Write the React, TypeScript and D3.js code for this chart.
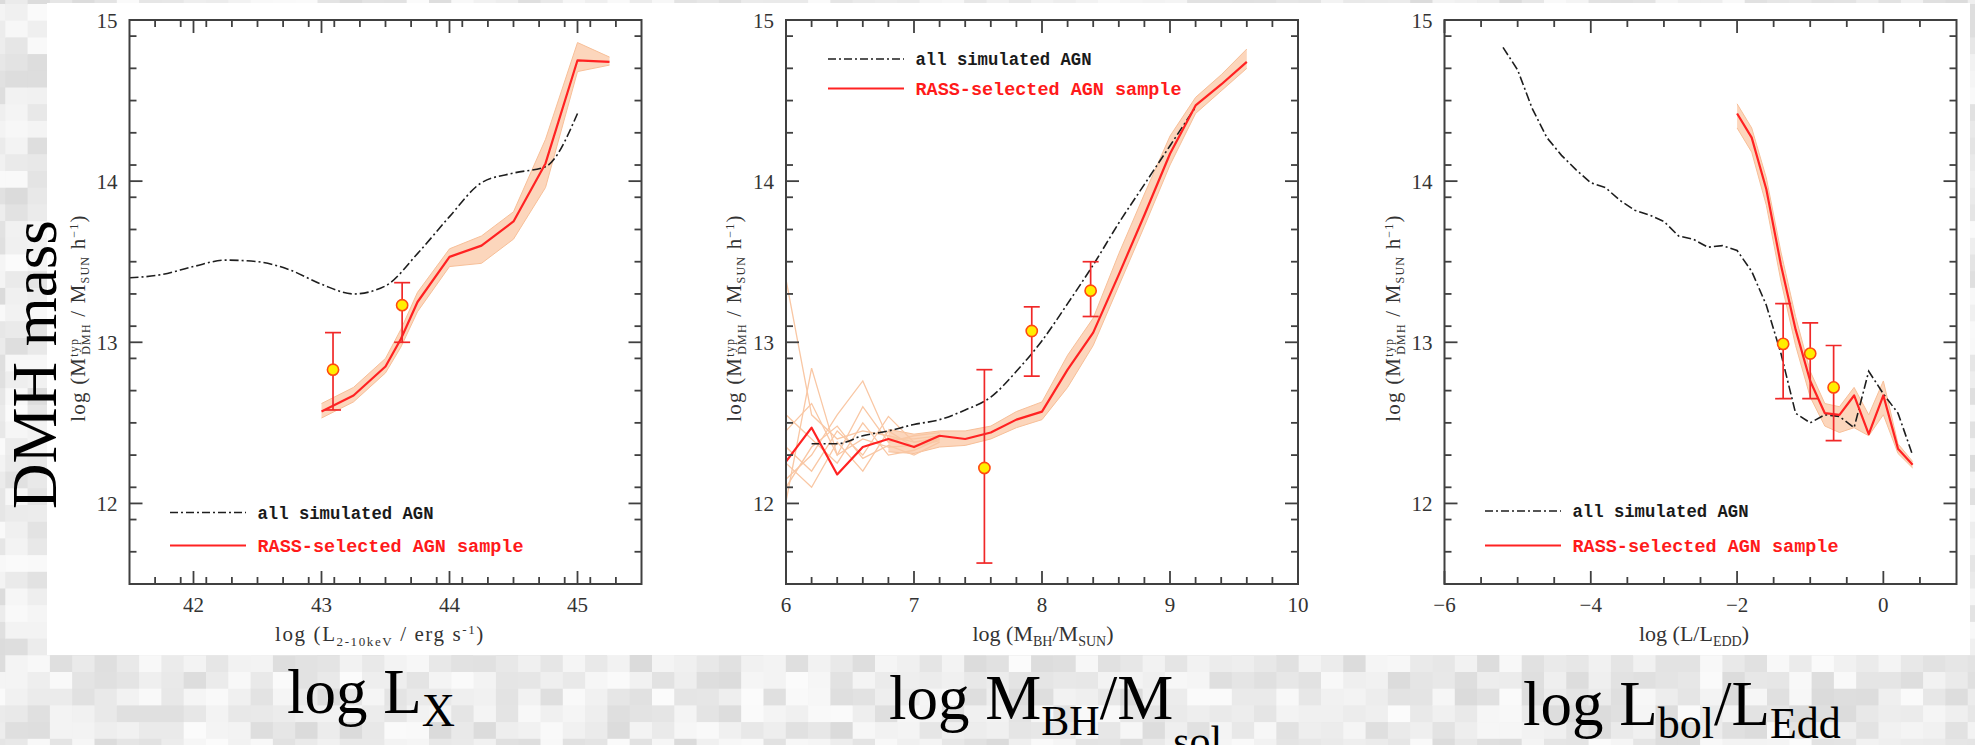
import React from 'react';
import * as d3 from 'd3';

const W = 1975;
const H = 745;

// ---------------- data: panel 1 (log Lx) ----------------
const lxAllX = [41.5, 41.75, 42.0, 42.25, 42.5, 42.75, 43.0, 43.25, 43.5, 43.75, 44.0, 44.25, 44.5, 44.75, 45.0];
const lxAllY = [13.40, 13.42, 13.47, 13.51, 13.50, 13.45, 13.36, 13.30, 13.35, 13.55, 13.78, 13.99, 14.05, 14.09, 14.42];
const lxRassX = [43.0, 43.25, 43.5, 43.62, 43.75, 44.0, 44.25, 44.5, 44.75, 45.0, 45.25];
const lxRassY = [12.57, 12.67, 12.85, 13.02, 13.25, 13.53, 13.60, 13.75, 14.11, 14.75, 14.74];
const lxBandLo = [12.53, 12.63, 12.81, 12.97, 13.19, 13.47, 13.49, 13.64, 13.96, 14.68, 14.72];
const lxBandHi = [12.62, 12.72, 12.90, 13.08, 13.31, 13.58, 13.66, 13.81, 14.26, 14.86, 14.77];
const lxObsX = [43.09, 43.63];
const lxObsY = [12.83, 13.23];
const lxObsLo = [12.58, 13.00];
const lxObsHi = [13.06, 13.37];

// ---------------- data: panel 2 (log M_BH) ----------------
const mbhAllX = [6.2, 6.4, 6.6, 6.8, 7.0, 7.2, 7.4, 7.6, 7.8, 8.0, 8.2, 8.4, 8.6, 8.8, 9.0, 9.2];
const mbhAllY = [12.37, 12.37, 12.42, 12.45, 12.49, 12.52, 12.58, 12.66, 12.82, 13.01, 13.24, 13.48, 13.74, 13.98, 14.22, 14.46];
const mbhRassX = [6.0, 6.2, 6.4, 6.6, 6.8, 7.0, 7.2, 7.4, 7.6, 7.8, 8.0, 8.2, 8.4, 8.6, 8.8, 9.0, 9.2, 9.4, 9.6];
const mbhRassY = [12.26, 12.47, 12.18, 12.35, 12.40, 12.35, 12.42, 12.40, 12.44, 12.52, 12.57, 12.83, 13.06, 13.42, 13.79, 14.17, 14.47, 14.60, 14.74];
const mbhBandX = [6.8, 7.0, 7.2, 7.4, 7.6, 7.8, 8.0, 8.2, 8.4, 8.6, 8.8, 9.0, 9.2, 9.4, 9.6];
const mbhBandLo = [12.32, 12.31, 12.35, 12.36, 12.40, 12.47, 12.52, 12.72, 12.98, 13.35, 13.72, 14.10, 14.42, 14.56, 14.70];
const mbhBandHi = [12.46, 12.43, 12.45, 12.45, 12.48, 12.57, 12.63, 12.92, 13.15, 13.55, 13.92, 14.28, 14.52, 14.66, 14.82];
const mbhRealX = [6.0, 6.2, 6.4, 6.6, 6.8, 7.0, 7.2];
const mbhReal1 = [13.39, 12.55, 12.40, 12.45, 12.42, 12.38, 12.40];
const mbhReal2 = [12.01, 12.84, 12.30, 12.40, 12.35, 12.36, 12.40];
const mbhReal3 = [12.15, 12.30, 12.55, 12.76, 12.40, 12.40, 12.42];
const mbhReal4 = [12.35, 12.20, 12.45, 12.30, 12.54, 12.38, 12.41];
const mbhReal5 = [12.55, 12.40, 12.25, 12.50, 12.30, 12.33, 12.40];
const mbhReal6 = [12.25, 12.10, 12.38, 12.20, 12.45, 12.35, 12.39];
const mbhReal7 = [12.45, 12.62, 12.30, 12.60, 12.38, 12.42, 12.44];
const mbhReal8 = [12.10, 12.35, 12.48, 12.28, 12.36, 12.30, 12.38];
const mbhObsX = [7.55, 7.92, 8.38];
const mbhObsY = [12.22, 13.07, 13.32];
const mbhObsLo = [11.63, 12.79, 13.16];
const mbhObsHi = [12.83, 13.22, 13.50];

// ---------------- data: panel 3 (log L/L_Edd) ----------------
const eddAllX = [-5.2, -5.0, -4.8, -4.6, -4.4, -4.2, -4.0, -3.8, -3.6, -3.4, -3.2, -3.0, -2.8, -2.6, -2.4, -2.2, -2.0, -1.8, -1.6, -1.4, -1.2, -1.0, -0.8, -0.6, -0.4, -0.2, 0.0, 0.2, 0.4];
const eddAllY = [14.83, 14.69, 14.45, 14.27, 14.16, 14.07, 13.99, 13.96, 13.88, 13.82, 13.79, 13.75, 13.66, 13.64, 13.59, 13.60, 13.57, 13.44, 13.23, 12.93, 12.56, 12.50, 12.55, 12.54, 12.47, 12.82, 12.68, 12.56, 12.30];
const eddRassX = [-2.0, -1.8, -1.6, -1.4, -1.2, -1.0, -0.8, -0.6, -0.4, -0.2, 0.0, 0.2, 0.4];
const eddRassY = [14.42, 14.27, 13.95, 13.48, 13.08, 12.76, 12.56, 12.55, 12.67, 12.43, 12.67, 12.34, 12.24];
const eddBandLo = [14.33, 14.18, 13.85, 13.38, 12.98, 12.66, 12.48, 12.44, 12.47, 12.42, 12.55, 12.31, 12.22];
const eddBandHi = [14.48, 14.33, 14.02, 13.56, 13.16, 12.82, 12.62, 12.60, 12.72, 12.55, 12.76, 12.37, 12.26];
const eddObsX = [-1.37, -1.0, -0.68];
const eddObsY = [12.99, 12.93, 12.72];
const eddObsLo = [12.65, 12.65, 12.39];
const eddObsHi = [13.24, 13.12, 12.98];

// ---------------- tick labels / texts ----------------
const yDomain: [number, number] = [11.5, 15];
const yMajor = [12, 13, 14, 15];
const lxTicks = [42, 43, 44, 45];
const mbhTicks = [6, 7, 8, 9, 10];
const eddTicks = [-6, -4, -2, 0];
const legendAll = 'all simulated AGN';
const legendRass = 'RASS-selected AGN sample';

// ---------------- layout ----------------
const TOP = 20;
const BOTTOM = 584;
const SERIF = '"Liberation Serif", "Times New Roman", serif';
const MONO = '"Liberation Mono", "Courier New", monospace';
const FRAME = '#404040';
const RED = '#ff2222';
const PEACH = '#fbcfb0';

type Obs = { x: number[]; y: number[]; lo: number[]; hi: number[] };
type Band = { x: number[]; lo: number[]; hi: number[] };

type PanelCfg = {
  id: string;
  left: number;
  right: number;
  xDomain: [number, number];
  xMajor: number[];
  minorStep: number;
  all: { x: number[]; y: number[]; smooth: boolean };
  rass: { x: number[]; y: number[] };
  band: Band;
  reals: { x: number[]; ys: number[][] } | null;
  obs: Obs;
  legend: { x1: number; x2: number; yA: number; yR: number; tx: number };
};

const panels: PanelCfg[] = [
  {
    id: 'p1', left: 129.5, right: 641.5, xDomain: [41.5, 45.5], xMajor: lxTicks, minorStep: 0.2,
    all: { x: lxAllX, y: lxAllY, smooth: true },
    rass: { x: lxRassX, y: lxRassY },
    band: { x: lxRassX, lo: lxBandLo, hi: lxBandHi },
    reals: null,
    obs: { x: lxObsX, y: lxObsY, lo: lxObsLo, hi: lxObsHi },
    legend: { x1: 170, x2: 246, yA: 512.5, yR: 545.5, tx: 257.5 },
  },
  {
    id: 'p2', left: 786, right: 1298, xDomain: [6, 10], xMajor: mbhTicks, minorStep: 0.2,
    all: { x: mbhAllX, y: mbhAllY, smooth: true },
    rass: { x: mbhRassX, y: mbhRassY },
    band: { x: mbhBandX, lo: mbhBandLo, hi: mbhBandHi },
    reals: { x: mbhRealX, ys: [mbhReal1, mbhReal2, mbhReal3, mbhReal4, mbhReal5, mbhReal6, mbhReal7, mbhReal8] },
    obs: { x: mbhObsX, y: mbhObsY, lo: mbhObsLo, hi: mbhObsHi },
    legend: { x1: 828, x2: 904, yA: 59, yR: 88.5, tx: 915.5 },
  },
  {
    id: 'p3', left: 1444.5, right: 1956.5, xDomain: [-6, 1], xMajor: eddTicks, minorStep: 0.5,
    all: { x: eddAllX, y: eddAllY, smooth: false },
    rass: { x: eddRassX, y: eddRassY },
    band: { x: eddRassX, lo: eddBandLo, hi: eddBandHi },
    reals: null,
    obs: { x: eddObsX, y: eddObsY, lo: eddObsLo, hi: eddObsHi },
    legend: { x1: 1485, x2: 1561, yA: 511, yR: 545.5, tx: 1572.5 },
  },
];

function hash(i: number, j: number): number {
  let n = Math.imul(i, 374761393) + Math.imul(j, 668265263);
  n = Math.imul(n ^ (n >>> 13), 1274126177);
  n = n ^ (n >>> 16);
  return (n >>> 0) / 4294967296;
}

function Background() {
  const bw = 22.3;
  const bh = 16.7;
  const cols = Math.ceil(W / bw) + 1;
  const rows = Math.ceil(H / bh) + 1;
  const rects: React.ReactNode[] = [];
  for (let i = 0; i < cols; i++) {
    for (let j = 0; j < rows; j++) {
      const v = Math.round(219 + hash(i, j) * 32);
      rects.push(
        <rect key={`${i}-${j}`} x={i * bw - 17} y={j * bh - 12.7} width={bw + 0.5} height={bh + 0.5}
          fill={`rgb(${v},${v},${v})`} />
      );
    }
  }
  return <g>{rects}</g>;
}

function Panel({ cfg }: { cfg: PanelCfg }) {
  const x = d3.scaleLinear().domain(cfg.xDomain).range([cfg.left, cfg.right]);
  const y = d3.scaleLinear().domain(yDomain).range([BOTTOM, TOP]);
  const n = Math.round((cfg.xDomain[1] - cfg.xDomain[0]) / cfg.minorStep);
  const xMinor = d3.range(1, n).map((i) => cfg.xDomain[0] + i * cfg.minorStep)
    .filter((v) => !cfg.xMajor.some((m) => Math.abs(m - v) < 1e-6));
  const ny = Math.round((yDomain[1] - yDomain[0]) / 0.2);
  const yMinor = d3.range(1, ny).map((i) => yDomain[0] + i * 0.2)
    .filter((v) => !yMajor.some((m) => Math.abs(m - v) < 1e-6));

  const line = d3.line<[number, number]>().x((d) => x(d[0])).y((d) => y(d[1]));
  const smoothLine = d3.line<[number, number]>().x((d) => x(d[0])).y((d) => y(d[1])).curve(d3.curveMonotoneX);
  const area = d3.area<number>()
    .x((_, i) => x(cfg.band.x[i]))
    .y0((_, i) => y(cfg.band.lo[i]))
    .y1((_, i) => y(cfg.band.hi[i]));

  const zip = (xs: number[], ys: number[]) => xs.map((v, i) => [v, ys[i]] as [number, number]);
  const allPath = (cfg.all.smooth ? smoothLine : line)(zip(cfg.all.x, cfg.all.y)) || '';
  const rassPath = line(zip(cfg.rass.x, cfg.rass.y)) || '';
  const bandPath = area(cfg.band.x) || '';
  const bandLoPath = line(zip(cfg.band.x, cfg.band.lo)) || '';
  const bandHiPath = line(zip(cfg.band.x, cfg.band.hi)) || '';

  const MAJ = 13;
  const MIN = 7;
  const tk = { stroke: FRAME, strokeWidth: 1.8 };
  const fmt = (v: number) => (v < 0 ? `\u2212${Math.abs(v)}` : `${v}`);

  return (
    <g>
      <defs>
        <clipPath id={`clip-${cfg.id}`}>
          <rect x={cfg.left} y={TOP} width={cfg.right - cfg.left} height={BOTTOM - TOP} />
        </clipPath>
      </defs>
      <g clipPath={`url(#clip-${cfg.id})`}>
        <path d={bandPath} fill={PEACH} opacity={0.85} />
        <path d={bandLoPath} fill="none" stroke="#f7bf98" strokeWidth={1} />
        <path d={bandHiPath} fill="none" stroke="#f7bf98" strokeWidth={1} />
        {cfg.reals && cfg.reals.ys.map((ys, k) => (
          <path key={k} d={line(zip(cfg.reals!.x, ys)) || ''} fill="none" stroke="#f9c7a4" strokeWidth={1.3} />
        ))}
        <path d={allPath} fill="none" stroke="#1e1e1e" strokeWidth={1.6} strokeDasharray="9,3,2,3" />
        <path d={rassPath} fill="none" stroke={RED} strokeWidth={2.2} strokeLinejoin="round" />
        {cfg.obs.x.map((v, i) => {
          const cx = x(v);
          return (
            <g key={i}>
              <line x1={cx} x2={cx} y1={y(cfg.obs.lo[i])} y2={y(cfg.obs.hi[i])} stroke="#f02828" strokeWidth={1.7} />
              <line x1={cx - 8} x2={cx + 8} y1={y(cfg.obs.lo[i])} y2={y(cfg.obs.lo[i])} stroke="#f02828" strokeWidth={1.7} />
              <line x1={cx - 8} x2={cx + 8} y1={y(cfg.obs.hi[i])} y2={y(cfg.obs.hi[i])} stroke="#f02828" strokeWidth={1.7} />
              <circle cx={cx} cy={y(cfg.obs.y[i])} r={5.6} fill="#ffee00" stroke="#ff4a10" strokeWidth={1.6} />
            </g>
          );
        })}
      </g>

      {/* ticks */}
      {cfg.xMajor.map((v) => (
        <g key={`xM${v}`}>
          <line x1={x(v)} x2={x(v)} y1={BOTTOM} y2={BOTTOM - MAJ} {...tk} />
          <line x1={x(v)} x2={x(v)} y1={TOP} y2={TOP + MAJ} {...tk} />
          <text x={x(v)} y={612} textAnchor="middle" fontFamily={SERIF} fontSize={21} fill="#333">{fmt(v)}</text>
        </g>
      ))}
      {xMinor.map((v, i) => (
        <g key={`xm${i}`}>
          <line x1={x(v)} x2={x(v)} y1={BOTTOM} y2={BOTTOM - MIN} {...tk} />
          <line x1={x(v)} x2={x(v)} y1={TOP} y2={TOP + MIN} {...tk} />
        </g>
      ))}
      {yMajor.map((v) => (
        <g key={`yM${v}`}>
          <line x1={cfg.left} x2={cfg.left + MAJ} y1={y(v)} y2={y(v)} {...tk} />
          <line x1={cfg.right} x2={cfg.right - MAJ} y1={y(v)} y2={y(v)} {...tk} />
          <text x={cfg.left - 12} y={y(v) + 7.5} textAnchor="end" fontFamily={SERIF} fontSize={21} fill="#333">{v}</text>
        </g>
      ))}
      {yMinor.map((v, i) => (
        <g key={`ym${i}`}>
          <line x1={cfg.left} x2={cfg.left + MIN} y1={y(v)} y2={y(v)} {...tk} />
          <line x1={cfg.right} x2={cfg.right - MIN} y1={y(v)} y2={y(v)} {...tk} />
        </g>
      ))}
      <rect x={cfg.left} y={TOP} width={cfg.right - cfg.left} height={BOTTOM - TOP} fill="none" stroke={FRAME} strokeWidth={2} />

      {/* legend */}
      <line x1={cfg.legend.x1} x2={cfg.legend.x2} y1={cfg.legend.yA} y2={cfg.legend.yA} stroke="#1e1e1e" strokeWidth={1.5} strokeDasharray="8,3,2,3" />
      <text x={cfg.legend.tx} y={cfg.legend.yA + 6} fontFamily={MONO} fontWeight="bold" fontSize={18} fill="#1a1a1a"
        textLength={176} lengthAdjust="spacingAndGlyphs">{legendAll}</text>
      <line x1={cfg.legend.x1} x2={cfg.legend.x2} y1={cfg.legend.yR} y2={cfg.legend.yR} stroke={RED} strokeWidth={2} />
      <text x={cfg.legend.tx} y={cfg.legend.yR + 6} fontFamily={MONO} fontWeight="bold" fontSize={18} fill="#ff1a1a"
        textLength={266} lengthAdjust="spacingAndGlyphs">{legendRass}</text>

      {/* y axis title */}
      <text transform={`translate(${cfg.left - 45},318) rotate(-90)`} textAnchor="middle" fontFamily={SERIF}
        fontSize={21} fill="#333" letterSpacing={1.2}>
        log (M<tspan dy={-7} fontSize={12}>typ</tspan><tspan dx={-17} dy={12} fontSize={12}>DMH</tspan>
        <tspan dy={-5}> / M</tspan><tspan dy={4} fontSize={12}>SUN</tspan><tspan dy={-4}> h</tspan>
        <tspan dy={-7} fontSize={12}>{'\u22121'}</tspan><tspan dy={7}>)</tspan>
      </text>
    </g>
  );
}

export default function App() {
  return (
    <svg width={W} height={H} viewBox={`0 0 ${W} ${H}`}
      style={{ position: 'absolute', left: 0, top: 0, display: 'block', background: '#e6e6e6' }}>
      <Background />
      <rect x={47} y={3} width={1923} height={652} fill="#ffffff" />
      {panels.map((p) => <Panel key={p.id} cfg={p} />)}

      {/* x axis titles */}
      <text x={380} y={641} textAnchor="middle" fontFamily={SERIF} fontSize={21} fill="#333" letterSpacing={1.6}>
        log (L<tspan dy={5} fontSize={13}>2-10keV</tspan><tspan dy={-5}> / erg s</tspan>
        <tspan dy={-7} fontSize={13}>-1</tspan><tspan dy={7}>)</tspan>
      </text>
      <text x={1043} y={641} textAnchor="middle" fontFamily={SERIF} fontSize={22} fill="#333">
        log (M<tspan dy={5} fontSize={14}>BH</tspan><tspan dy={-5}>/M</tspan>
        <tspan dy={5} fontSize={14}>SUN</tspan><tspan dy={-5}>)</tspan>
      </text>
      <text x={1694} y={641} textAnchor="middle" fontFamily={SERIF} fontSize={22} fill="#333">
        log (L/L<tspan dy={5} fontSize={14}>EDD</tspan><tspan dy={-5}>)</tspan>
      </text>

      {/* big annotation labels */}
      <text transform="translate(56,509) rotate(-90)" fontFamily={SERIF} fontSize={63} fill="#000">DMH mass</text>
      <text x={287} y={713} fontFamily={SERIF} fontSize={63} fill="#000">
        log L<tspan dy={13} fontSize={46}>X</tspan>
      </text>
      <text x={889} y={719} fontFamily={SERIF} fontSize={63} fill="#000">
        log M<tspan dy={16} fontSize={42}>BH</tspan><tspan dy={-16}>/M</tspan><tspan dy={36} fontSize={42}>sol</tspan>
      </text>
      <text x={1523} y={725} fontFamily={SERIF} fontSize={63} fill="#000">
        log L<tspan dy={13} fontSize={44}>bol</tspan><tspan dy={-13}>/L</tspan><tspan dy={13} fontSize={44}>Edd</tspan>
      </text>
    </svg>
  );
}
